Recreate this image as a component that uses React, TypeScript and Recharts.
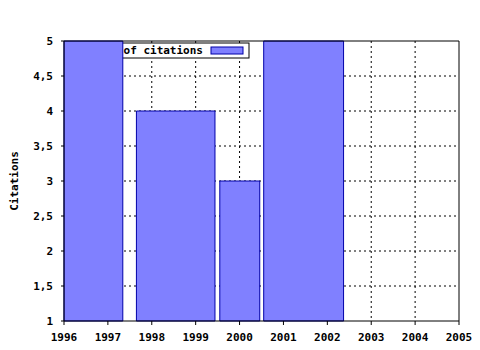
import { ComposedChart, XAxis, YAxis, CartesianGrid, ReferenceArea } from 'recharts'

// bars as [start, end] in years, with citation counts
const barStarts = [1996, 1997.65, 1999.55, 2000.55]
const barEnds = [1997.34, 1999.44, 2000.46, 2002.37]
const citations = [5, 4, 3, 5]

const yearTicks = [1996, 1997, 1998, 1999, 2000, 2001, 2002, 2003, 2004, 2005]
const minorTicks = yearTicks.slice(0, -1).flatMap((y) => [y + 0.25, y + 0.5, y + 0.75])
const yTicks = [1, 1.5, 2, 2.5, 3, 3.5, 4, 4.5, 5]

const seriesName = 'Number of citations'

const font = "'DejaVu Sans Mono', monospace"
const barFill = '#8080ff'
const barStroke = '#0000a8'

const data = barStarts.map((s, i) => ({ start: s, end: barEnds[i], value: citations[i] }))

const tickStyle = { fontFamily: font, fontSize: 11, fontWeight: 'bold', fill: '#000' }

function LegendBox() {
  // drawn inside the svg so the bars cover its left part, like the original
  return (
    <g>
      <rect x={70} y={43} width={179} height={15} fill='#fff' stroke='#000' />
      <text
        x={203}
        y={54}
        textAnchor='end'
        style={{ fontFamily: font, fontSize: 11, fontWeight: 'bold' }}
      >
        {seriesName}
      </text>
      <rect x={211} y={47} width={32} height={7} fill={barFill} stroke={barStroke} />
    </g>
  )
}

export default function App() {
  return (
    <div style={{ position: 'absolute', left: 0, top: 0, background: '#fff' }}>
      <ComposedChart
        width={480}
        height={350}
        data={data}
        margin={{ top: 39, right: 19, bottom: 0, left: 0 }}
      >
        <CartesianGrid
          xAxisId='bottom'
          yAxisId='left'
          stroke='#000'
          strokeDasharray='2 3'
          horizontalValues={yTicks.slice(1, -1)}
          verticalValues={yearTicks.slice(1, -1)}
        />
        <XAxis
          xAxisId='bottom'
          dataKey='start'
          type='number'
          domain={[1996, 2005]}
          ticks={yearTicks}
          interval={0}
          height={28}
          tickSize={4}
          tickMargin={8}
          tick={tickStyle}
          stroke='#000'
          allowDataOverflow
        />
        <XAxis
          xAxisId='bottomMinor'
          dataKey='start'
          type='number'
          domain={[1996, 2005]}
          ticks={minorTicks}
          interval={0}
          height={1}
          tickSize={2}
          tick={false}
          axisLine={false}
          stroke='#000'
          allowDataOverflow
        />
        <XAxis
          xAxisId='top'
          orientation='top'
          dataKey='start'
          type='number'
          domain={[1996, 2005]}
          ticks={yearTicks}
          interval={0}
          height={1}
          tickSize={4}
          tick={false}
          stroke='#000'
          allowDataOverflow
        />
        <XAxis
          xAxisId='topMinor'
          orientation='top'
          dataKey='start'
          type='number'
          domain={[1996, 2005]}
          ticks={minorTicks}
          interval={0}
          height={1}
          tickSize={2}
          tick={false}
          axisLine={false}
          stroke='#000'
          allowDataOverflow
        />
        <YAxis
          yAxisId='left'
          type='number'
          domain={[1, 5]}
          ticks={yTicks}
          interval={0}
          width={64}
          tickSize={3}
          tickMargin={8}
          tick={tickStyle}
          stroke='#000'
          tickFormatter={(v: number) => String(v).replace('.', ',')}
          allowDataOverflow
          label={{
            content: ({ viewBox }: any) => {
              const cy = viewBox.y + viewBox.height / 2
              return (
                <text
                  x={18}
                  y={cy}
                  textAnchor='middle'
                  transform={`rotate(-90, 18, ${cy})`}
                  style={{ fontFamily: font, fontSize: 11, fontWeight: 'bold' }}
                >
                  Citations
                </text>
              )
            },
          }}
        />
        <YAxis
          yAxisId='right'
          orientation='right'
          type='number'
          domain={[1, 5]}
          width={2}
          tick={false}
          tickLine={false}
          stroke='#000'
        />
        <LegendBox />
        {data.map((d, i) => (
          <ReferenceArea
            key={i}
            xAxisId='bottom'
            yAxisId='left'
            x1={d.start}
            x2={d.end}
            y1={1}
            y2={d.value}
            fill={barFill}
            fillOpacity={1}
            stroke={barStroke}
            strokeWidth={1}
            ifOverflow='visible'
          />
        ))}
      </ComposedChart>
    </div>
  )
}
